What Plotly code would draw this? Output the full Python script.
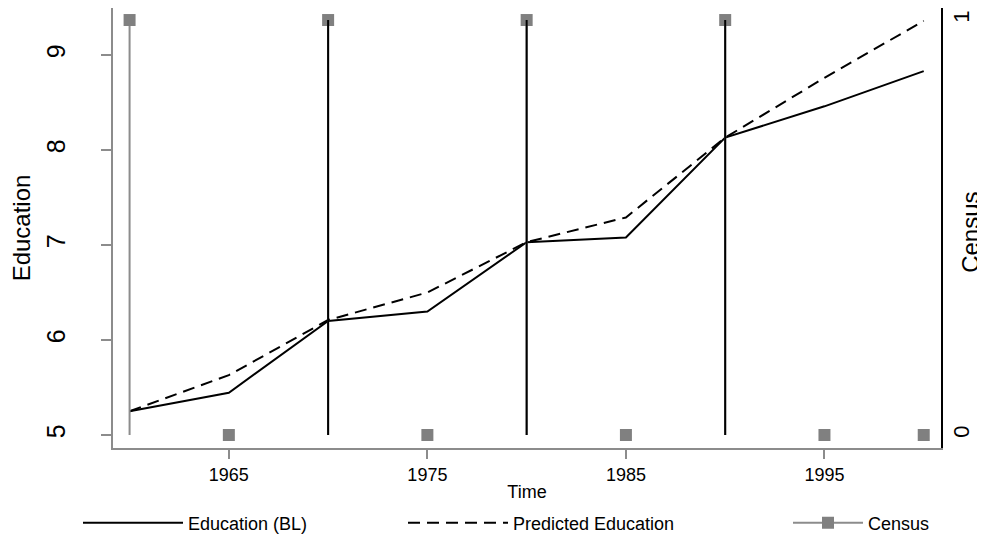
import plotly.graph_objects as go

years = [1960, 1965, 1970, 1975, 1980, 1985, 1990, 1995, 2000]
edu_bl = [5.25, 5.445, 6.20, 6.30, 7.03, 7.08, 8.13, 8.46, 8.83]
edu_pred = [5.25, 5.63, 6.21, 6.50, 7.03, 7.29, 8.13, 8.76, 9.36]
census = [1, 0, 1, 0, 1, 0, 1, 0, 0]
xline_years = [1970, 1980, 1990]

x_ticks = [1965, 1975, 1985, 1995]
y_ticks = [5, 6, 7, 8, 9]
y2_ticks = [0, 1]

FONT = "Liberation Sans, Arial"
GRAY = "#8c8c8c"
MARK = "#808080"

fig = go.Figure()

# drop lines for census
dx, dy = [], []
for xv, cv in zip(years, census):
    dx += [xv, xv, None]
    dy += [0, cv, None]

fig.add_trace(go.Scatter(x=dx, y=dy, yaxis="y2", mode="lines",
                         line=dict(color=GRAY, width=2), showlegend=False,
                         hoverinfo="skip"))

for xl in xline_years:
    fig.add_shape(type="line", x0=xl, x1=xl, y0=0, y1=1, xref="x", yref="y2",
                  line=dict(color="black", width=2))

fig.add_trace(go.Scatter(x=years, y=edu_bl, mode="lines", name="Education (BL)",
                         line=dict(color="black", width=2), legend="legend"))
fig.add_trace(go.Scatter(x=years, y=edu_pred, mode="lines", name="Predicted Education",
                         line=dict(color="black", width=2, dash="12px,7px"), legend="legend2"))
fig.add_trace(go.Scatter(x=years, y=census, yaxis="y2", mode="markers", name="Census",
                         marker=dict(symbol="square", size=12, color=MARK),
                         showlegend=False))
# legend key for Census (line + marker)
fig.add_trace(go.Scatter(x=[None], y=[None], yaxis="y2", mode="lines+markers", name="Census",
                         line=dict(color=GRAY, width=2),
                         marker=dict(symbol="square", size=12, color=MARK),
                         legend="legend3"))

leg_common = dict(orientation="h", xref="container", yref="container",
                  yanchor="middle", y=0.048, bgcolor="rgba(0,0,0,0)",
                  font=dict(family=FONT, size=18, color="black"),
                  tracegroupgap=0)

fig.add_annotation(text="Census", xref="paper", yref="paper", x=1, y=0.489,
                   xanchor="center", yanchor="middle", xshift=30, textangle=-90,
                   showarrow=False, font=dict(family=FONT, size=24, color="black"))

fig.update_layout(
    width=977, height=541,
    margin=dict(l=104.7, r=43.5, t=0, b=101),
    paper_bgcolor="white", plot_bgcolor="white",
    font=dict(family=FONT, color="black"),
    xaxis=dict(range=[1959.165, 2000.87], tickvals=x_ticks, ticks="outside",
               ticklen=9, tickwidth=2, tickcolor=GRAY, showline=True,
               linecolor=GRAY, linewidth=2, showgrid=False, zeroline=False,
               automargin=False,
               tickfont=dict(family=FONT, size=18, color="black"),
               title=dict(text="Time", font=dict(family=FONT, size=18), standoff=2)),
    yaxis=dict(range=[4.863, 9.495], tickvals=y_ticks, ticks="outside",
               ticklen=10, tickwidth=2, tickcolor=GRAY, showline=True,
               linecolor=GRAY, linewidth=2, showgrid=False, zeroline=False,
               tickangle=-90, ticklabelstandoff=26, automargin=False,
               tickfont=dict(family=FONT, size=25, color="black"),
               title=dict(text="Education", font=dict(family=FONT, size=24), standoff=8)),
    yaxis2=dict(range=[-0.0313, 1.029], tickvals=y2_ticks, overlaying="y",
                side="right", ticks="", showline=True, linecolor="black",
                linewidth=2, showgrid=False, zeroline=False, tickangle=-90,
                automargin=False, ticklabelstandoff=0,
                tickfont=dict(family=FONT, size=22, color="black")),
    legend=dict(leg_common, x=70 / 977, itemwidth=100),
    legend2=dict(leg_common, x=395 / 977, itemwidth=100),
    legend3=dict(leg_common, x=780 / 977, itemwidth=70),
)

fig.write_html("out.html")
